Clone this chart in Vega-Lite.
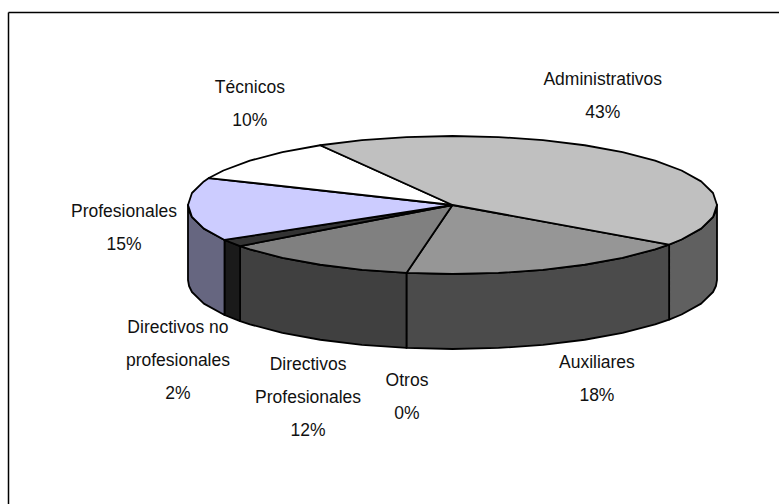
{
  "$schema": "https://vega.github.io/schema/vega-lite/v6.json",
  "width": 771,
  "height": 492,
  "autosize": "none",
  "padding": {"left": 8, "top": 12, "right": 0, "bottom": 0},
  "background": "white",
  "config": {"view": {"stroke": null}},
  "datasets": {
    "walls": [
      {"slice":"Administrativos","u":100,"v":0,"v2":-108.7},
      {"slice":"Administrativos","u":99.6,"v":-8.7,"v2":-117.4},
      {"slice":"Administrativos","u":98.5,"v":-17.4,"v2":-126.1},
      {"slice":"Administrativos","u":94,"v":-34.2,"v2":-142.9},
      {"slice":"Administrativos","u":86.6,"v":-50,"v2":-158.7},
      {"slice":"Administrativos","u":81.9,"v":-57.4,"v2":-166.1},
      {"slice":"Auxiliares","u":81.9,"v":-57.4,"v2":-166.1},
      {"slice":"Auxiliares","u":76.6,"v":-64.3,"v2":-173},
      {"slice":"Auxiliares","u":64.3,"v":-76.6,"v2":-185.3},
      {"slice":"Auxiliares","u":50,"v":-86.6,"v2":-195.3},
      {"slice":"Auxiliares","u":34.2,"v":-94,"v2":-202.7},
      {"slice":"Auxiliares","u":17.4,"v":-98.5,"v2":-207.2},
      {"slice":"Auxiliares","u":0,"v":-100,"v2":-208.7},
      {"slice":"Auxiliares","u":-17.4,"v":-98.5,"v2":-207.2},
      {"slice":"Directivos Profesionales","u":-17.4,"v":-98.5,"v2":-207.2},
      {"slice":"Directivos Profesionales","u":-34.2,"v":-94,"v2":-202.7},
      {"slice":"Directivos Profesionales","u":-50,"v":-86.6,"v2":-195.3},
      {"slice":"Directivos Profesionales","u":-64.3,"v":-76.6,"v2":-185.3},
      {"slice":"Directivos Profesionales","u":-76.6,"v":-64.3,"v2":-173},
      {"slice":"Directivos Profesionales","u":-80.3,"v":-59.6,"v2":-168.3},
      {"slice":"Directivos no profesionales","u":-80.3,"v":-59.6,"v2":-168.3},
      {"slice":"Directivos no profesionales","u":-86.2,"v":-50.7,"v2":-159.4},
      {"slice":"Profesionales","u":-86.2,"v":-50.7,"v2":-159.4},
      {"slice":"Profesionales","u":-94,"v":-34.2,"v2":-142.9},
      {"slice":"Profesionales","u":-98.5,"v":-17.4,"v2":-126.1},
      {"slice":"Profesionales","u":-99.6,"v":-8.7,"v2":-117.4},
      {"slice":"Profesionales","u":-100,"v":0,"v2":-108.7}
    ],
    "faces": [
      {"slice":"Auxiliares","seq":0,"u":0,"v":0},
      {"slice":"Auxiliares","seq":1,"u":81.9,"v":-57.4},
      {"slice":"Auxiliares","seq":2,"u":76.6,"v":-64.3},
      {"slice":"Auxiliares","seq":3,"u":64.3,"v":-76.6},
      {"slice":"Auxiliares","seq":4,"u":50,"v":-86.6},
      {"slice":"Auxiliares","seq":5,"u":34.2,"v":-94},
      {"slice":"Auxiliares","seq":6,"u":17.4,"v":-98.5},
      {"slice":"Auxiliares","seq":7,"u":0,"v":-100},
      {"slice":"Auxiliares","seq":8,"u":-17.4,"v":-98.5},
      {"slice":"Auxiliares","seq":9,"u":0,"v":0},
      {"slice":"Directivos Profesionales","seq":0,"u":0,"v":0},
      {"slice":"Directivos Profesionales","seq":1,"u":-17.4,"v":-98.5},
      {"slice":"Directivos Profesionales","seq":2,"u":-34.2,"v":-94},
      {"slice":"Directivos Profesionales","seq":3,"u":-50,"v":-86.6},
      {"slice":"Directivos Profesionales","seq":4,"u":-64.3,"v":-76.6},
      {"slice":"Directivos Profesionales","seq":5,"u":-76.6,"v":-64.3},
      {"slice":"Directivos Profesionales","seq":6,"u":-80.3,"v":-59.6},
      {"slice":"Directivos Profesionales","seq":7,"u":0,"v":0},
      {"slice":"Directivos no profesionales","seq":0,"u":0,"v":0},
      {"slice":"Directivos no profesionales","seq":1,"u":-80.3,"v":-59.6},
      {"slice":"Directivos no profesionales","seq":2,"u":-86.2,"v":-50.7},
      {"slice":"Directivos no profesionales","seq":3,"u":0,"v":0},
      {"slice":"Profesionales","seq":0,"u":0,"v":0},
      {"slice":"Profesionales","seq":1,"u":-86.2,"v":-50.7},
      {"slice":"Profesionales","seq":2,"u":-94,"v":-34.2},
      {"slice":"Profesionales","seq":3,"u":-98.5,"v":-17.4},
      {"slice":"Profesionales","seq":4,"u":-100,"v":0},
      {"slice":"Profesionales","seq":5,"u":-98.5,"v":17.4},
      {"slice":"Profesionales","seq":6,"u":-94,"v":34.2},
      {"slice":"Profesionales","seq":7,"u":-92.1,"v":39.1},
      {"slice":"Profesionales","seq":8,"u":0,"v":0},
      {"slice":"Técnicos","seq":0,"u":0,"v":0},
      {"slice":"Técnicos","seq":1,"u":-92.1,"v":39.1},
      {"slice":"Técnicos","seq":2,"u":-86.6,"v":50},
      {"slice":"Técnicos","seq":3,"u":-76.6,"v":64.3},
      {"slice":"Técnicos","seq":4,"u":-64.3,"v":76.6},
      {"slice":"Técnicos","seq":5,"u":-50,"v":86.6},
      {"slice":"Técnicos","seq":6,"u":0,"v":0},
      {"slice":"Administrativos","seq":0,"u":0,"v":0},
      {"slice":"Administrativos","seq":1,"u":-50,"v":86.6},
      {"slice":"Administrativos","seq":2,"u":-34.2,"v":94},
      {"slice":"Administrativos","seq":3,"u":-17.4,"v":98.5},
      {"slice":"Administrativos","seq":4,"u":0,"v":100},
      {"slice":"Administrativos","seq":5,"u":17.4,"v":98.5},
      {"slice":"Administrativos","seq":6,"u":34.2,"v":94},
      {"slice":"Administrativos","seq":7,"u":50,"v":86.6},
      {"slice":"Administrativos","seq":8,"u":64.3,"v":76.6},
      {"slice":"Administrativos","seq":9,"u":76.6,"v":64.3},
      {"slice":"Administrativos","seq":10,"u":86.6,"v":50},
      {"slice":"Administrativos","seq":11,"u":94,"v":34.2},
      {"slice":"Administrativos","seq":12,"u":98.5,"v":17.4},
      {"slice":"Administrativos","seq":13,"u":100,"v":0},
      {"slice":"Administrativos","seq":14,"u":98.5,"v":-17.4},
      {"slice":"Administrativos","seq":15,"u":94,"v":-34.2},
      {"slice":"Administrativos","seq":16,"u":86.6,"v":-50},
      {"slice":"Administrativos","seq":17,"u":81.9,"v":-57.4},
      {"slice":"Administrativos","seq":18,"u":0,"v":0}
    ],
    "slices": [
      {"slice":"Administrativos","share":43,"label":"Administrativos\n43%","u":56.8,"v":181.2},
      {"slice":"Auxiliares","share":18,"label":"Auxiliares\n18%","u":54.6,"v":-229},
      {"slice":"Otros","share":0,"label":"Otros\n0%","u":-17.2,"v":-255.1},
      {"slice":"Directivos Profesionales","share":12,"label":"Directivos\nProfesionales\n12%","u":-54.6,"v":-231.9},
      {"slice":"Directivos no profesionales","share":2,"label":"Directivos no\nprofesionales\n2%","u":-103.8,"v":-178.3},
      {"slice":"Profesionales","share":15,"label":"Profesionales\n15%","u":-124.2,"v":-10.1},
      {"slice":"Técnicos","share":10,"label":"Técnicos\n10%","u":-76.6,"v":169.6}
    ]
  },
  "encoding": {
    "x": {
      "field": "u",
      "type": "quantitative",
      "title": null,
      "scale": {"domain": [-168.05, 123.44], "nice": false, "zero": false},
      "axis": {"orient": "top", "labels": false, "ticks": false, "grid": false, "domain": true, "domainColor": "black", "domainWidth": 1.5}
    },
    "y": {
      "field": "v",
      "type": "quantitative",
      "title": null,
      "scale": {"domain": [-433.33, 279.71], "nice": false, "zero": false},
      "axis": {"orient": "left", "labels": false, "ticks": false, "grid": false, "domain": true, "domainColor": "black", "domainWidth": 1.5}
    }
  },
  "layer": [
    {
      "data": {"name": "walls"},
      "mark": {"type": "area", "stroke": "black", "strokeWidth": 1.8, "strokeJoin": "round", "orient": "vertical"},
      "encoding": {
        "y2": {"field": "v2"},
        "fill": {
          "field": "slice",
          "type": "nominal",
          "legend": null,
          "scale": {
            "domain": ["Administrativos","Auxiliares","Directivos Profesionales","Directivos no profesionales","Profesionales"],
            "range": ["#606060","#4b4b4b","#404040","#1a1a1a","#666680"]
          }
        }
      }
    },
    {
      "data": {"name": "faces"},
      "mark": {"type": "line", "filled": true, "stroke": "black", "strokeWidth": 1.8, "strokeJoin": "round"},
      "encoding": {
        "order": {"field": "seq", "type": "quantitative"},
        "fill": {
          "field": "slice",
          "type": "nominal",
          "legend": null,
          "scale": {
            "domain": ["Administrativos","Auxiliares","Directivos Profesionales","Directivos no profesionales","Profesionales","Técnicos"],
            "range": ["#c0c0c0","#969696","#808080","#333333","#ccccff","#ffffff"]
          }
        }
      }
    },
    {
      "data": {"name": "slices"},
      "mark": {"type": "text", "font": "Liberation Sans", "fontSize": 17.5, "lineHeight": 33, "lineBreak": "\n", "align": "center", "baseline": "middle", "color": "#111111"},
      "encoding": {"text": {"field": "label", "type": "nominal"}}
    }
  ],
  "resolve": {"scale": {"fill": "independent"}}
}
